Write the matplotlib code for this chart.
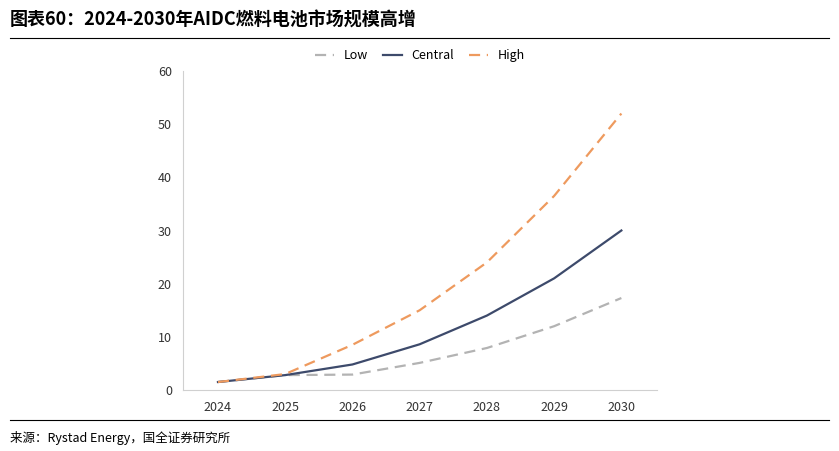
import matplotlib.pyplot as plt

plt.rcParams['font.family'] = ['Noto Sans CJK SC', 'DejaVu Sans']

years = [2024, 2025, 2026, 2027, 2028, 2029, 2030]
low = [1.5, 2.8, 2.9, 5.1, 7.9, 12.0, 17.3]
central = [1.5, 2.8, 4.8, 8.6, 14.0, 21.0, 30.0]
high = [1.5, 3.0, 8.5, 15.0, 24.0, 36.5, 52.0]

fig = plt.figure(figsize=(8.39, 4.51), dpi=100)
ax = fig.add_axes([183/839, 1-390/451, (657-183)/839, (390-71)/451])

ax.plot(years, low, color='#b3b3b3', linestyle=(0, (5, 3)), linewidth=1.6, label='Low')
ax.plot(years, central, color='#3d4a6b', linewidth=1.6, label='Central')
ax.plot(years, high, color='#ee9a5e', linestyle=(0, (5, 3)), linewidth=1.6, label='High')

ax.set_xlim(2023.48, 2030.53)
ax.set_ylim(0, 60)
ax.set_xticks(years)
ax.set_yticks(range(0, 61, 10))
ax.tick_params(labelsize=9, colors='#333333', length=0, pad=8)
for s in ['top', 'right']:
    ax.spines[s].set_visible(False)
for s in ['left', 'bottom']:
    ax.spines[s].set_color('#d0d0d0')

ax.legend(loc='lower center', bbox_to_anchor=(0.5, 1.0), ncol=3, frameon=False,
          fontsize=9, handlelength=1.5, columnspacing=1.2, borderaxespad=0.3)

fig.text(0.012, 0.955, '图表60：2024-2030年AIDC燃料电池市场规模高增', fontsize=13,
         fontweight='bold', style='italic', va='center')
fig.add_artist(plt.Line2D([0.012, 0.988], [1-38/451]*2, color='black', linewidth=0.8))
fig.add_artist(plt.Line2D([0.012, 0.988], [1-420/451]*2, color='black', linewidth=0.8))
fig.text(0.012, 1-438/451, '来源：Rystad Energy，国全证券研究所', fontsize=9, va='center')

plt.savefig('out.png', dpi=100)
